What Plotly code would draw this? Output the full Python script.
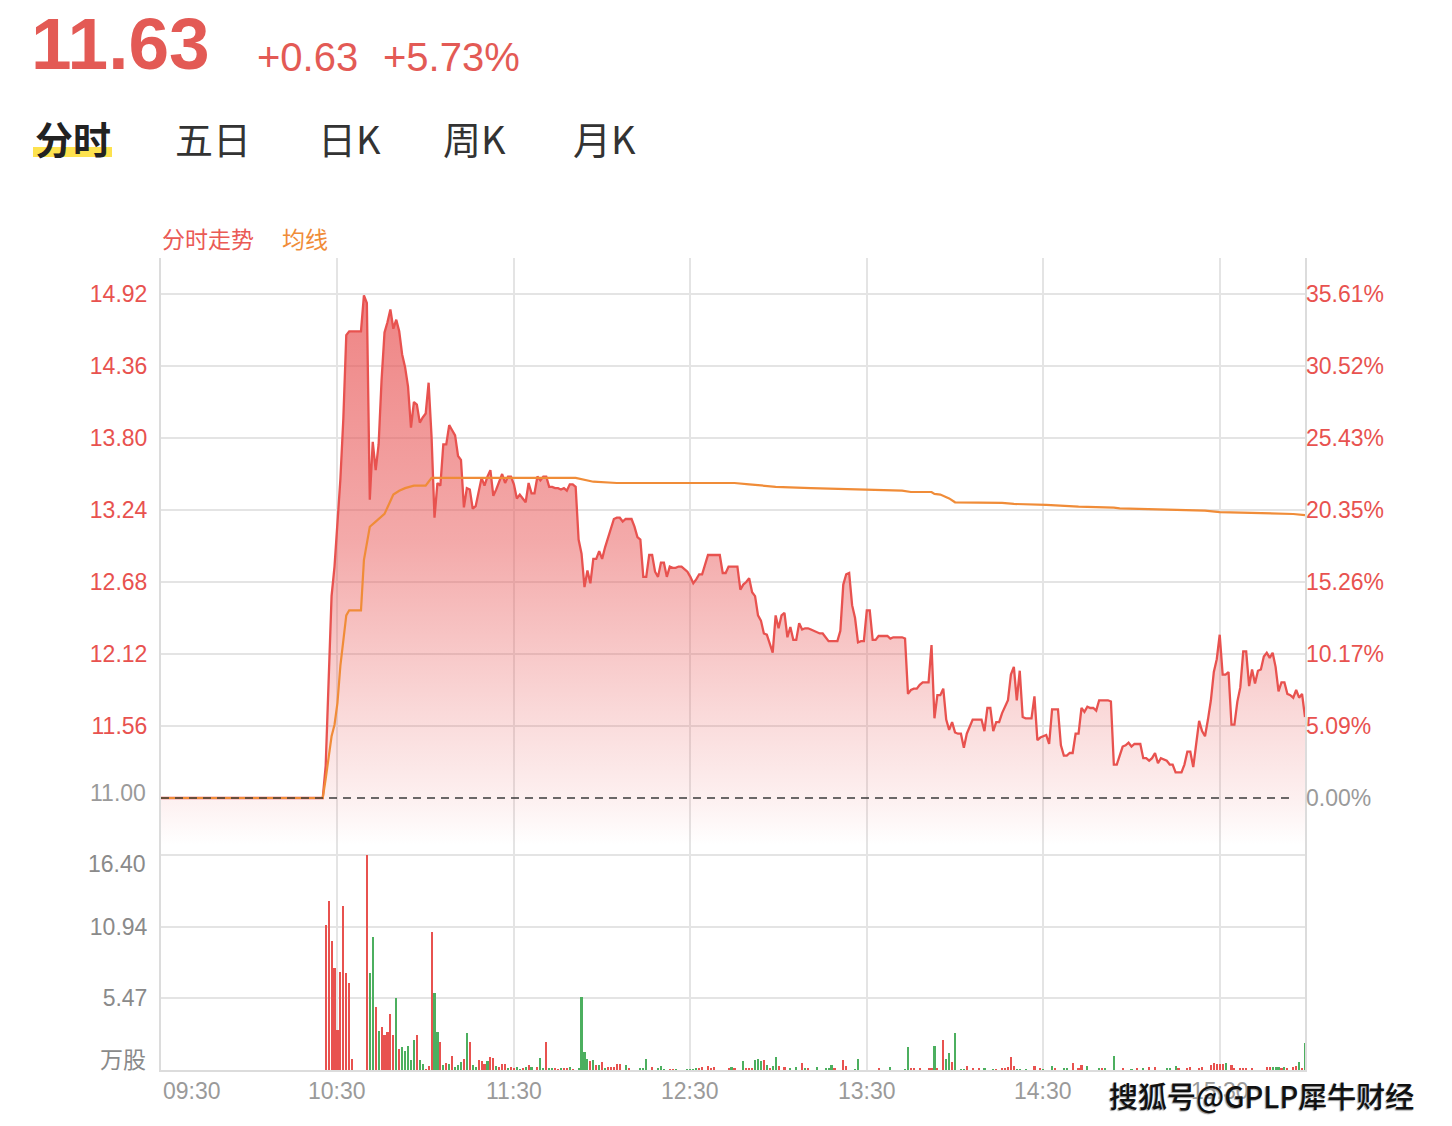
import plotly.graph_objects as go

# ---------------- data ----------------
prev_close = 11.00
last_price = "11.63"
change_abs = "+0.63"
change_pct = "+5.73%"

tabs = ["分时", "五日", "日K", "周K", "月K"]
legend_names = ["分时走势", "均线"]

price_ticks = [11.00, 11.56, 12.12, 12.68, 13.24, 13.80, 14.36, 14.92]
price_tick_text = ["11.00", "11.56", "12.12", "12.68", "13.24", "13.80", "14.36", "14.92"]
pct_tick_text = ["0.00%", "5.09%", "10.17%", "15.26%", "20.35%", "25.43%", "30.52%", "35.61%"]

vol_ticks = [5.47, 10.94, 16.40]
vol_tick_text = ["5.47", "10.94", "16.40"]
vol_unit = "万股"

x_tick_minutes = [0, 60, 120, 180, 240, 300, 360]
x_tick_labels = ["09:30", "10:30", "11:30", "12:30", "13:30", "14:30", "15:30"]

# minute offsets from 09:30 (session minutes 0..389)
price_minutes = [0] + list(range(55, 390))
price_values = [
    11.00,                                   # 09:30
    11.00,                                   # m55
    11.25, 11.95, 12.57, 12.80,              # m56-59
    13.12, 13.48, 13.95, 14.60, 14.63, 14.63, 14.63, 14.63, 14.63, 14.91,
    14.85, 13.32, 13.77, 13.55, 13.75, 14.25, 14.62, 14.70, 14.80, 14.65,
    14.72, 14.63, 14.45, 14.35, 14.20, 13.88, 14.08, 14.06, 13.92, 13.96,
    13.99, 14.23, 13.81, 13.18, 13.45, 13.43, 13.75, 13.75, 13.90, 13.86,
    13.82, 13.66, 13.63, 13.26, 13.41, 13.40, 13.25, 13.27, 13.38, 13.49,
    13.43, 13.50, 13.55, 13.35, 13.40, 13.46, 13.52, 13.45, 13.50, 13.50,
    13.44, 13.33, 13.36, 13.33, 13.30, 13.45, 13.37, 13.37, 13.50, 13.47,
    13.50, 13.50, 13.42, 13.42, 13.41, 13.41, 13.40, 13.41, 13.39, 13.44,
    13.44, 13.42, 13.01, 12.90, 12.64, 12.77, 12.67, 12.86, 12.86, 12.92,
    12.86, 12.95, 13.03, 13.11, 13.17, 13.18, 13.18, 13.15, 13.17, 13.17,
    13.17, 13.11, 13.03, 13.01, 12.72, 12.72, 12.89, 12.89, 12.76, 12.72,
    12.83, 12.83, 12.72, 12.80, 12.79, 12.79, 12.80, 12.80, 12.78, 12.76,
    12.72, 12.67, 12.70, 12.74, 12.74, 12.82, 12.89, 12.89, 12.89, 12.89,
    12.89, 12.75, 12.75, 12.80, 12.80, 12.80, 12.80, 12.62, 12.66, 12.68,
    12.71, 12.60, 12.57, 12.42, 12.38, 12.28, 12.27, 12.20, 12.13, 12.42,
    12.32, 12.42, 12.44, 12.25, 12.33, 12.23, 12.23, 12.36, 12.31, 12.32,
    12.32, 12.31, 12.30, 12.29, 12.28, 12.28, 12.25, 12.22, 12.22, 12.22,
    12.22, 12.30, 12.66, 12.74, 12.75, 12.50, 12.40, 12.21, 12.22, 12.22,
    12.46, 12.46, 12.23, 12.23, 12.26, 12.26, 12.26, 12.26, 12.24, 12.25,
    12.25, 12.25, 12.25, 12.24, 11.81, 11.84, 11.85, 11.85, 11.88, 11.90,
    11.90, 11.90, 12.19, 11.62, 11.80, 11.80, 11.85, 11.61, 11.53, 11.59,
    11.51, 11.50, 11.50, 11.39, 11.50, 11.55, 11.61, 11.61, 11.61, 11.61,
    11.52, 11.70, 11.70, 11.52, 11.59, 11.59, 11.66, 11.71, 11.76, 11.96,
    12.02, 11.76, 11.99, 11.63, 11.62, 11.62, 11.62, 11.79, 11.45, 11.47,
    11.48, 11.49, 11.42, 11.69, 11.69, 11.69, 11.41, 11.33, 11.33, 11.35,
    11.35, 11.50, 11.50, 11.70, 11.67, 11.71, 11.70, 11.70, 11.68, 11.76,
    11.76, 11.76, 11.76, 11.75, 11.26, 11.26, 11.33, 11.40, 11.41, 11.43,
    11.40, 11.42, 11.42, 11.42, 11.31, 11.31, 11.29, 11.31, 11.35, 11.27,
    11.31, 11.30, 11.29, 11.26, 11.26, 11.20, 11.20, 11.20, 11.26, 11.36,
    11.36, 11.24, 11.42, 11.60, 11.52, 11.48, 11.61, 11.76, 11.98, 12.08,
    12.27, 11.96, 11.96, 11.98, 11.57, 11.57, 11.75, 11.86, 12.14, 12.14,
    11.87, 12.00, 11.89, 11.99, 12.00, 12.10, 12.13, 12.09, 12.13, 12.02,
    11.83, 11.90, 11.90, 11.81, 11.80, 11.78, 11.84, 11.78, 11.81, 11.63,
]
assert len(price_minutes) == len(price_values)

avg_minutes = [0, 55, 56, 57, 58, 59, 60, 61, 62, 63, 64, 68, 69, 70, 71, 73, 75, 76, 77,
               78, 79, 81, 83, 86, 90, 91, 92, 141, 147, 155, 195, 200, 209, 221, 238,
               252, 255, 262, 263, 265, 268, 270, 286, 290, 301, 312, 324, 326, 355,
               360, 385, 389]
avg_values = [11.00, 11.00, 11.15, 11.33, 11.48, 11.57, 11.74, 12.03, 12.25, 12.42, 12.46,
              12.46, 12.85, 12.98, 13.11, 13.15, 13.19, 13.21, 13.26, 13.31, 13.36, 13.39,
              13.41, 13.43, 13.43, 13.46, 13.49, 13.49, 13.46, 13.45, 13.45, 13.44, 13.42,
              13.41, 13.40, 13.39, 13.38, 13.38, 13.365, 13.36, 13.33, 13.30, 13.295,
              13.287, 13.28, 13.266, 13.258, 13.253, 13.235, 13.224, 13.209, 13.20]
assert len(avg_minutes) == len(avg_values)

vol_minutes = [
    56, 57, 58, 59, 60, 61, 62, 63, 64, 65,
    70, 71, 72, 73, 74, 75, 76, 77, 78, 79,
    80, 81, 82, 83, 84, 85, 86, 87, 88, 89,
    90, 91, 92, 93, 94, 95, 96, 97, 98, 99,
    100, 101, 102, 103, 104, 105, 106, 107, 108, 109,
    110, 111, 112, 113, 114, 115, 116, 117, 118, 119,
    120, 121, 122, 123, 124, 125, 126, 128, 129,
    130, 131, 132, 133, 134, 135, 136, 137, 138, 139,
    140, 142, 143, 144, 145, 146, 147, 148, 149,
    150, 151, 152, 153, 154, 155, 156, 158, 159,
    163, 164, 165, 167, 169,
    170, 171, 173, 174, 175, 179,
    180, 181, 182, 183, 184, 186, 187, 188,
    193, 194, 195, 198, 199,
    200, 201, 202, 203, 204, 205, 206, 207, 208, 209,
    210, 212, 214, 216, 218, 219,
    220, 223, 226, 227, 228, 229,
    232, 233, 236, 237,
    244, 248,
    253, 254, 255, 256, 258,
    261, 262, 263, 264, 266, 267, 268, 269,
    270, 272, 273, 274, 276, 278,
    280, 283, 284, 286, 287, 288, 289,
    290, 291, 292, 294, 297, 299,
    300, 303, 304, 307, 308,
    310, 312, 313, 315, 319,
    320, 321, 324, 327,
    330, 332, 334, 336, 338,
    342, 343, 345, 346, 349,
    350, 353, 354, 357, 358, 359,
    360, 361, 362, 364, 365, 367, 368, 369,
    371, 376, 377, 378, 379,
    380, 381, 382, 383, 385, 386, 387, 388, 389,
]
vol_values = [
    11.06, 12.89, 9.84, 7.81, 3.05, 7.50, 12.51, 7.37, 6.61, 0.84,
    16.40, 7.37, 10.17, 4.83, 2.97, 3.25, 2.67, 2.92, 4.27, 2.67,
    5.47, 1.60, 1.73, 1.47, 1.83, 0.76, 2.29, 2.67, 0.76, 0.46,
    0.05, 0.31, 10.55, 5.85, 2.92, 2.16, 0.38, 0.56, 0.46, 1.09,
    0.20, 0.38, 0.64, 0.84, 2.80, 2.16, 0.38, 0.20, 0.76, 0.69,
    0.46, 0.66, 1.02, 0.89, 0.31, 0.20, 0.46, 0.46, 0.13, 0.20,
    0.08, 0.20, 0.05, 0.15, 0.25, 0.36, 0.20, 0.20, 0.89,
    0.13, 2.16, 0.13, 0.08, 0.13, 0.05, 0.13, 0.08, 0.08, 0.20,
    0.05, 0.15, 5.60, 1.40, 0.81, 0.71, 0.74, 0.36, 0.38,
    0.59, 0.08, 0.20, 0.20, 0.20, 0.46, 0.46, 0.41, 0.08,
    0.08, 0.08, 0.87, 0.20, 0.15,
    0.30, 0.05, 0.05, 0.05, 0.05, 0.05,
    0.05, 0.05, 0.13, 0.13, 0.20, 0.30, 0.10, 0.20,
    0.13, 0.20, 0.10, 0.66, 0.13,
    0.13, 0.10, 0.76, 0.81, 0.69, 0.76, 0.36, 0.13, 0.28, 0.97,
    0.30, 0.20, 0.13, 0.20, 0.56, 0.13,
    0.13, 0.25, 0.10, 0.13, 0.36, 0.10,
    0.76, 0.30, 0.05, 0.81,
    0.13, 0.20,
    0.05, 1.73, 0.10, 0.10, 0.10,
    0.13, 0.13, 1.83, 0.13, 2.29, 0.81, 1.27, 0.64,
    2.80, 0.05, 0.05, 0.30, 0.13, 0.13,
    0.15, 0.05, 0.05, 0.15, 0.10, 0.25, 1.02,
    0.30, 0.05, 0.05, 0.05, 0.30, 0.08,
    0.05, 0.30, 0.13, 0.18, 0.13,
    0.56, 0.13, 0.36, 0.30, 0.13,
    0.15, 0.10, 1.07, 0.08,
    0.05, 0.08, 0.13, 0.20, 0.20,
    0.13, 0.08, 0.30, 0.13, 0.13,
    0.20, 0.13, 0.20, 0.36, 0.51, 0.46,
    0.46, 0.46, 0.51, 0.36, 0.15, 0.13, 0.18, 0.15,
    0.10, 0.20, 0.25, 0.20, 0.25,
    0.25, 0.13, 0.20, 0.13, 0.20, 0.33, 0.64, 0.13, 2.09,
]
vol_up = [
    1, 1, 1, 1, 1, 1, 1, 1, 1, 1,
    1, 0, 0, 1, 0, 1, 1, 1, 1, 1,
    0, 1, 0, 0, 0, 0, 0, 1, 0, 0,
    1, 1, 1, 0, 0, 1, 0, 1, 0, 1,
    0, 0, 0, 1, 0, 1, 0, 0, 1, 1,
    1, 0, 1, 1, 0, 1, 1, 1, 0, 1,
    1, 0, 0, 1, 0, 1, 0, 1, 0,
    0, 1, 0, 0, 1, 1, 0, 1, 1, 0,
    1, 0, 0, 0, 0, 1, 0, 1, 0,
    1, 0, 1, 1, 1, 1, 1, 0, 1,
    0, 0, 0, 1, 0,
    0, 0, 1, 1, 0, 0,
    0, 0, 0, 1, 1, 1, 1, 1,
    1, 0, 1, 0, 1,
    1, 1, 0, 0, 0, 1, 0, 1, 0, 0,
    1, 1, 0, 0, 1, 0,
    1, 0, 0, 0, 0, 1,
    1, 1, 0, 0,
    1, 0,
    0, 0, 1, 1, 1,
    1, 1, 0, 1, 1, 0, 0, 1,
    0, 0, 0, 1, 1, 1,
    0, 0, 1, 1, 1, 1, 1,
    1, 0, 0, 0, 1, 1,
    0, 0, 1, 0, 0,
    1, 1, 1, 0, 0,
    1, 0, 0, 1,
    0, 1, 0, 1, 1,
    0, 0, 0, 1, 1,
    1, 1, 1, 1, 1, 1,
    1, 1, 0, 1, 1, 1, 1, 1,
    1, 1, 1, 0, 0,
    0, 1, 0, 1, 1, 1, 0, 1, 0,
]
assert len(vol_minutes) == len(vol_values) == len(vol_up)

# ---------------- styles / geometry ----------------
RED = "#e8524f"
GREEN = "#4caf5f"
ORANGE = "#f08c38"
GRID = "#e4e4e4"
BORDER = "#dcdcdc"
GRAY = "#9a9a9a"

# the page body has an 8px margin, so the figure is drawn 8px smaller on
# every side and everything is placed in window pixel terms.
OFF = 8
WIN_W, WIN_H = 1452, 1126
FIG_W, FIG_H = WIN_W - 2 * OFF, WIN_H - 2 * OFF
L, R, T, B = 161, 1305, 258, 1070       # plot area in window pixels


def px(x):
    return (x - L) / (R - L)


def py(y):
    return (B - y) / (B - T)


split_px = 845
split = py(split_px)
ppx = (798 - 294) / (price_ticks[-1] - price_ticks[0])
p_lo = prev_close - (split_px - 798) / ppx
p_hi = prev_close + (798 - T) / ppx
vpx = (B - 855) / vol_ticks[-1]
v_hi = (B - split_px) / vpx


def col(t, c):
    return f"<span style='color:{c}'>{t}</span>"


fig = go.Figure()

span = price_ticks[-1] - p_lo


def pos(v):
    return (v - p_lo) / span


fig.add_trace(go.Scatter(
    x=price_minutes, y=price_values, mode="lines",
    line=dict(color=RED, width=2.3),
    fill="tozeroy",
    fillgradient=dict(
        type="vertical", start=p_lo, stop=price_ticks[-1],
        colorscale=[
            [0.0, "rgba(232,84,84,0.0)"],
            [pos(11.00), "rgba(232,84,84,0.09)"],
            [pos(11.56), "rgba(232,84,84,0.20)"],
            [pos(13.00), "rgba(232,84,84,0.50)"],
            [1.0, "rgba(232,84,84,0.72)"],
        ],
    ),
    xaxis="x", yaxis="y", hoverinfo="skip", showlegend=False,
))

fig.add_trace(go.Scatter(
    x=avg_minutes, y=avg_values, mode="lines",
    line=dict(color=ORANGE, width=2.2),
    xaxis="x", yaxis="y2", hoverinfo="skip", showlegend=False,
))

fig.add_trace(go.Bar(
    x=vol_minutes, y=vol_values,
    marker=dict(color=[RED if u else GREEN for u in vol_up], line=dict(width=0)),
    width=0.72, xaxis="x", yaxis="y3", hoverinfo="skip", showlegend=False,
))

tick_font = dict(family="Liberation Sans, Noto Sans CJK SC", size=23)

fig.update_layout(
    width=FIG_W, height=FIG_H,
    margin=dict(l=L - OFF, r=(WIN_W - OFF) - R, t=T - OFF, b=(WIN_H - OFF) - B, pad=0),
    paper_bgcolor="white", plot_bgcolor="white",
    showlegend=False,
    bargap=0,
    xaxis=dict(
        domain=[0, 1], anchor="y3", range=[0, 389],
        tickvals=x_tick_minutes, showticklabels=False, ticks="",
        showgrid=True, gridcolor=GRID, gridwidth=2,
        showline=True, linecolor=BORDER, linewidth=2, zeroline=False,
    ),
    yaxis=dict(
        domain=[split, 1], anchor="x", range=[p_lo, p_hi],
        tickvals=price_ticks[1:],
        ticktext=[col(t, RED) for t in price_tick_text[1:]],
        tickfont=tick_font, ticks="", ticklabelstandoff=7,
        showgrid=True, gridcolor=GRID, gridwidth=2,
        showline=True, mirror=True, linecolor=BORDER, linewidth=2, zeroline=False,
    ),
    yaxis2=dict(
        overlaying="y", side="right", anchor="x", range=[p_lo, p_hi],
        tickvals=price_ticks,
        ticktext=[col(pct_tick_text[0], GRAY)] + [col(t, RED) for t in pct_tick_text[1:]],
        tickfont=tick_font, ticks="", ticklabelstandoff=0,
        showgrid=False, showline=False, zeroline=False,
    ),
    yaxis3=dict(
        domain=[0, split], anchor="x", range=[0, v_hi],
        tickvals=vol_ticks,
        ticktext=[col(vol_tick_text[0], "#8a8a8a"), col(vol_tick_text[1], "#8a8a8a"), ""],
        tickfont=tick_font, ticks="", ticklabelstandoff=7,
        showgrid=True, gridcolor=GRID, gridwidth=2,
        showline=True, mirror=True, linecolor=BORDER, linewidth=2, zeroline=False,
    ),
)

# previous close reference line
fig.add_shape(type="line", xref="x domain", yref="y",
              x0=0, x1=px(1290), y0=prev_close, y1=prev_close,
              line=dict(color="#3a3a3a", width=1.6, dash="8px,6px"), layer="above")

# yellow highlight under the active tab
fig.add_shape(type="rect", xref="paper", yref="paper",
              x0=px(33), x1=px(112), y0=py(157), y1=py(147),
              fillcolor="#fde24f", line=dict(width=0), layer="below")

ann = []
CJK = "Noto Sans CJK SC"
NUM = "Liberation Sans"


def add(text, x, y, size, color, xanchor="left", family=NUM, weight=None, shadow=None):
    f = dict(family=family, size=size, color=color)
    if weight:
        f["weight"] = weight
    if shadow:
        f["shadow"] = shadow
    ann.append(dict(text=text, x=px(x), y=py(y), xref="paper", yref="paper",
                    xanchor=xanchor, yanchor="middle", showarrow=False, font=f))


# header
add(last_price, 29, 44, 73, "#e35a55", weight="bold")
add(change_abs, 255, 57, 40, "#e35a55")
add(change_pct, 381, 57, 40, "#e35a55")

# tabs
tab_x = [33, 173, 316, 441, 571]
for i, (t, x) in enumerate(zip(tabs, tab_x)):
    add(t, x, 138, 38, "#222222" if i == 0 else "#333333", family=CJK,
        weight="bold" if i == 0 else None)

# legend texts
add(legend_names[0], 160, 238, 23, "#ea5a55", family=CJK)
add(legend_names[1], 280, 238, 23, ORANGE, family=CJK)

# axis labels placed by hand
add(price_tick_text[0], 148, 793, 23, GRAY, xanchor="right")
add(vol_tick_text[2], 148, 864, 23, "#8a8a8a", xanchor="right")
add(vol_unit, 148, 1058, 23, "#8a8a8a", xanchor="right", family=CJK)

# x labels
for m, lab in zip(x_tick_minutes, x_tick_labels):
    ann.append(dict(text=lab, x=m, y=py(1091), xref="x", yref="paper",
                    xanchor="left" if m == 0 else "center", yanchor="middle",
                    showarrow=False, font=dict(family=NUM, size=23, color=GRAY)))

# watermark
add("搜狐号@GPLP犀牛财经", 1107, 1095, 29, "#111111", family=CJK, weight=500,
    shadow="-1px 1px 1px #9a9a9a")

fig.update_layout(annotations=ann)

fig.write_html("out.html")
